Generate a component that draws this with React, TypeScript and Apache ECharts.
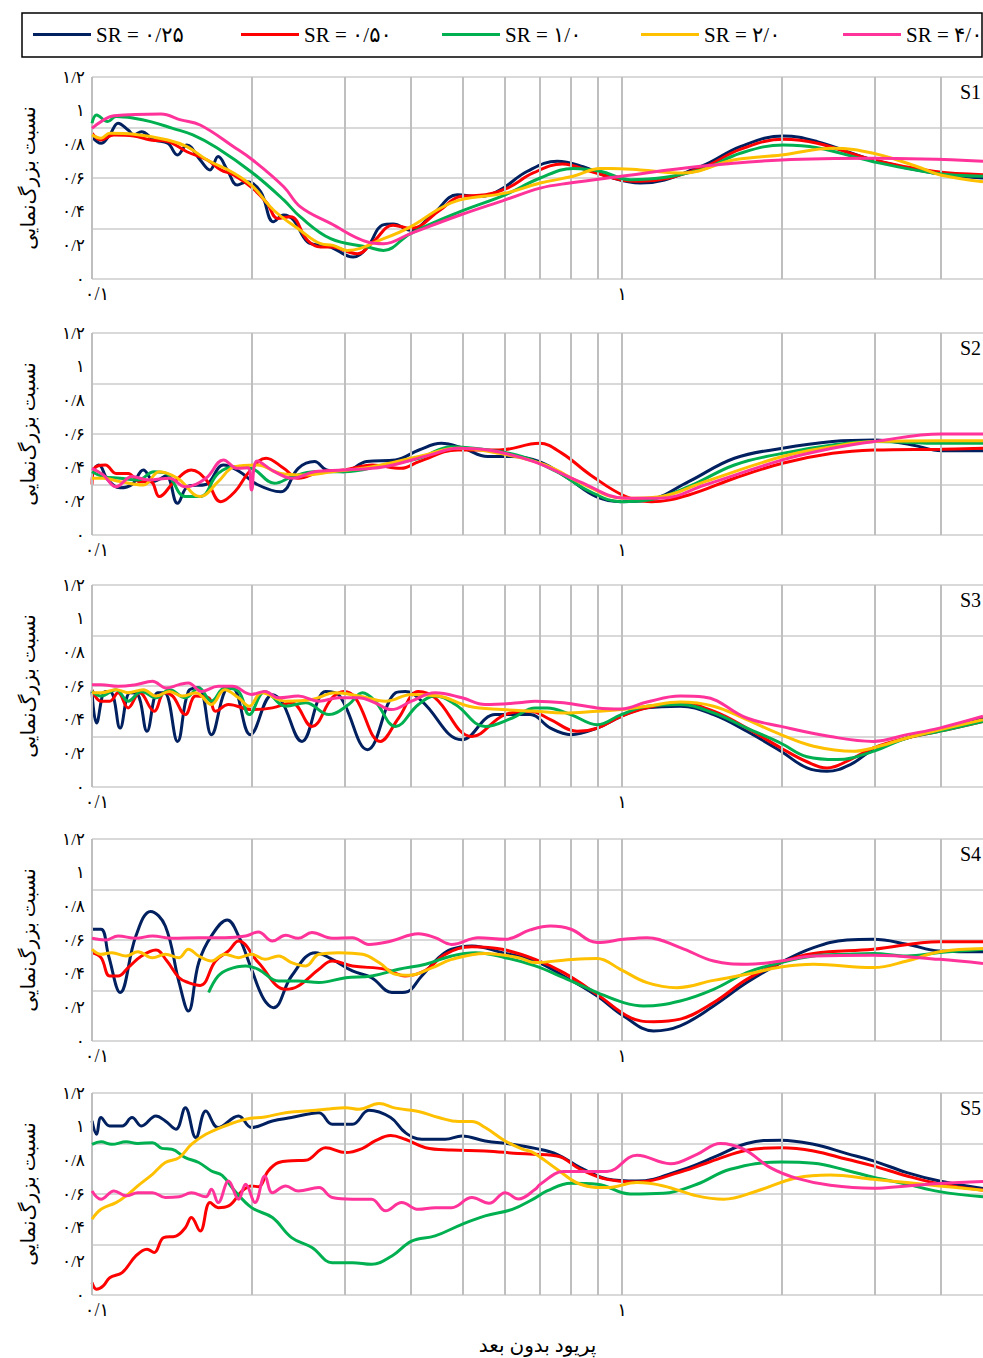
import React, { useEffect, useRef } from "react";
import * as echarts from "echarts";

// ---------- DATA (period T/Tn , amplification ratio) ----------
const s1_sr025 = [[0.1,0.845],[0.104,0.806],[0.108,0.856],[0.112,0.925],[0.117,0.885],[0.12,0.856],[0.124,0.875],[0.131,0.826],[0.139,0.806],[0.145,0.737],[0.151,0.796],[0.16,0.707],[0.167,0.648],[0.173,0.727],[0.18,0.648],[0.188,0.558],[0.196,0.578],[0.208,0.519],[0.22,0.34],[0.23,0.38],[0.24,0.35],[0.255,0.22],[0.27,0.2],[0.282,0.19],[0.311,0.13],[0.331,0.19],[0.353,0.32],[0.37,0.327],[0.399,0.29],[0.441,0.39],[0.489,0.5],[0.54,0.49],[0.589,0.53],[0.663,0.64],[0.755,0.7],[0.845,0.667],[0.938,0.61],[1.083,0.57],[1.406,0.667],[1.672,0.786],[2.016,0.85],[2.336,0.816],[2.98,0.707],[3.87,0.63],[4.8,0.6]];
const s1_sr050 = [[0.1,0.866],[0.104,0.826],[0.11,0.856],[0.12,0.85],[0.129,0.826],[0.139,0.816],[0.151,0.756],[0.165,0.707],[0.175,0.648],[0.185,0.618],[0.201,0.539],[0.214,0.45],[0.224,0.36],[0.237,0.37],[0.255,0.23],[0.27,0.19],[0.282,0.19],[0.317,0.15],[0.339,0.22],[0.37,0.32],[0.399,0.3],[0.454,0.41],[0.495,0.49],[0.553,0.5],[0.608,0.54],[0.68,0.63],[0.772,0.683],[0.871,0.64],[0.993,0.59],[1.083,0.58],[1.406,0.657],[1.672,0.77],[2.016,0.83],[2.336,0.806],[2.98,0.707],[3.87,0.64],[4.8,0.62]];
const s1_sr10 = [[0.1,0.925],[0.102,0.975],[0.107,0.935],[0.111,0.965],[0.12,0.955],[0.129,0.935],[0.142,0.895],[0.155,0.856],[0.172,0.78],[0.201,0.63],[0.23,0.47],[0.247,0.37],[0.282,0.24],[0.331,0.19],[0.355,0.17],[0.399,0.27],[0.495,0.4],[0.602,0.5],[0.701,0.6],[0.809,0.657],[0.91,0.64],[1.037,0.59],[1.406,0.648],[1.672,0.747],[2.016,0.796],[2.336,0.78],[2.98,0.697],[3.87,0.63],[4.8,0.61]];
const s1_sr20 = [[0.1,0.856],[0.104,0.836],[0.108,0.866],[0.12,0.86],[0.139,0.826],[0.151,0.786],[0.165,0.707],[0.185,0.63],[0.201,0.55],[0.22,0.41],[0.247,0.29],[0.27,0.21],[0.285,0.2],[0.303,0.17],[0.355,0.24],[0.399,0.31],[0.454,0.42],[0.495,0.47],[0.602,0.51],[0.701,0.57],[0.809,0.61],[0.91,0.657],[0.95,0.657],[1.083,0.648],[1.305,0.63],[1.622,0.707],[2.0,0.737],[2.504,0.777],[2.98,0.747],[3.61,0.667],[3.99,0.618],[4.8,0.578]];
const s1_sr40 = [[0.1,0.895],[0.104,0.935],[0.11,0.97],[0.135,0.98],[0.147,0.945],[0.16,0.915],[0.185,0.786],[0.201,0.707],[0.23,0.548],[0.247,0.43],[0.282,0.33],[0.331,0.22],[0.355,0.21],[0.399,0.27],[0.495,0.38],[0.602,0.47],[0.701,0.54],[0.797,0.57],[0.997,0.61],[1.406,0.67],[2.0,0.707],[2.98,0.717],[4.8,0.7]];

const s2_sr025 = [[0.1,0.376],[0.103,0.416],[0.107,0.33],[0.113,0.28],[0.119,0.3],[0.125,0.386],[0.131,0.32],[0.138,0.35],[0.145,0.188],[0.152,0.29],[0.164,0.3],[0.177,0.416],[0.19,0.376],[0.205,0.3],[0.227,0.257],[0.245,0.396],[0.263,0.436],[0.277,0.386],[0.299,0.376],[0.33,0.436],[0.374,0.446],[0.414,0.505],[0.456,0.545],[0.502,0.515],[0.558,0.466],[0.617,0.466],[0.699,0.436],[0.791,0.337],[0.894,0.228],[0.997,0.198],[1.122,0.208],[1.336,0.317],[1.63,0.456],[2.008,0.515],[2.496,0.555],[2.993,0.564],[3.53,0.535],[4.01,0.5],[4.8,0.5]];
const s2_sr050 = [[0.1,0.3],[0.101,0.396],[0.106,0.416],[0.111,0.366],[0.117,0.366],[0.123,0.317],[0.129,0.317],[0.134,0.228],[0.143,0.317],[0.154,0.386],[0.164,0.33],[0.175,0.198],[0.186,0.257],[0.198,0.376],[0.213,0.456],[0.23,0.396],[0.245,0.337],[0.27,0.376],[0.299,0.386],[0.338,0.416],[0.383,0.396],[0.414,0.436],[0.49,0.505],[0.587,0.505],[0.699,0.545],[0.771,0.485],[0.872,0.357],[1.017,0.228],[1.136,0.198],[1.336,0.238],[1.63,0.337],[2.008,0.426],[2.496,0.485],[2.993,0.505],[4.01,0.51],[4.8,0.515]];
const s2_sr10 = [[0.1,0.376],[0.105,0.347],[0.113,0.337],[0.122,0.327],[0.131,0.376],[0.138,0.366],[0.15,0.228],[0.16,0.228],[0.173,0.366],[0.186,0.406],[0.2,0.396],[0.221,0.307],[0.239,0.347],[0.263,0.376],[0.299,0.376],[0.356,0.416],[0.414,0.456],[0.478,0.525],[0.558,0.505],[0.649,0.466],[0.753,0.376],[0.872,0.257],[0.997,0.198],[1.122,0.208],[1.336,0.287],[1.63,0.416],[2.008,0.485],[2.496,0.535],[2.993,0.555],[4.01,0.545],[4.8,0.545]];
const s2_sr20 = [[0.1,0.337],[0.105,0.337],[0.113,0.317],[0.125,0.297],[0.134,0.376],[0.145,0.337],[0.16,0.228],[0.173,0.317],[0.186,0.406],[0.205,0.416],[0.227,0.366],[0.251,0.357],[0.284,0.376],[0.338,0.406],[0.414,0.466],[0.49,0.515],[0.587,0.485],[0.716,0.416],[0.852,0.297],[1.005,0.218],[1.18,0.228],[1.434,0.317],[2.008,0.466],[2.496,0.525],[2.993,0.555],[4.01,0.56],[4.8,0.56]];
const s2_sr40 = [[0.1,0.396],[0.105,0.357],[0.111,0.287],[0.119,0.347],[0.128,0.327],[0.14,0.337],[0.15,0.287],[0.164,0.337],[0.177,0.446],[0.188,0.396],[0.197,0.4],[0.2,0.267],[0.205,0.44],[0.221,0.376],[0.239,0.337],[0.263,0.376],[0.299,0.386],[0.356,0.406],[0.435,0.476],[0.49,0.515],[0.558,0.505],[0.682,0.436],[0.831,0.317],[1.017,0.218],[1.18,0.218],[1.434,0.297],[2.008,0.446],[2.496,0.515],[2.993,0.555],[4.01,0.6],[4.8,0.6]];

const s3_sr025 = [[0.1,0.568],[0.102,0.38],[0.106,0.568],[0.109,0.56],[0.113,0.35],[0.118,0.56],[0.122,0.55],[0.127,0.331],[0.133,0.56],[0.137,0.56],[0.145,0.271],[0.152,0.568],[0.159,0.59],[0.168,0.311],[0.178,0.568],[0.184,0.59],[0.199,0.311],[0.219,0.548],[0.228,0.509],[0.249,0.271],[0.276,0.568],[0.292,0.548],[0.331,0.222],[0.374,0.56],[0.39,0.568],[0.419,0.51],[0.499,0.28],[0.577,0.43],[0.671,0.43],[0.733,0.35],[0.801,0.311],[0.898,0.35],[0.997,0.42],[1.115,0.47],[1.288,0.48],[1.489,0.43],[1.72,0.331],[1.995,0.212],[2.234,0.113],[2.437,0.093],[2.697,0.133],[2.98,0.222],[3.449,0.291],[3.973,0.34],[4.8,0.41]];
const s3_sr050 = [[0.1,0.578],[0.104,0.51],[0.108,0.51],[0.112,0.56],[0.117,0.47],[0.123,0.56],[0.131,0.45],[0.137,0.56],[0.142,0.54],[0.15,0.43],[0.157,0.54],[0.166,0.53],[0.171,0.45],[0.181,0.49],[0.2,0.46],[0.219,0.47],[0.238,0.5],[0.26,0.36],[0.284,0.53],[0.299,0.568],[0.314,0.53],[0.35,0.271],[0.379,0.41],[0.413,0.568],[0.444,0.53],[0.521,0.3],[0.602,0.43],[0.671,0.45],[0.733,0.4],[0.823,0.331],[0.898,0.35],[0.997,0.42],[1.115,0.47],[1.288,0.5],[1.489,0.45],[1.72,0.35],[1.995,0.232],[2.234,0.15],[2.437,0.113],[2.697,0.163],[2.98,0.232],[3.449,0.291],[3.973,0.331],[4.8,0.39]];
const s3_sr10 = [[0.1,0.568],[0.104,0.54],[0.111,0.578],[0.117,0.51],[0.124,0.568],[0.132,0.53],[0.14,0.578],[0.15,0.53],[0.159,0.588],[0.168,0.51],[0.178,0.588],[0.189,0.568],[0.198,0.43],[0.212,0.568],[0.232,0.48],[0.253,0.5],[0.28,0.43],[0.305,0.49],[0.324,0.56],[0.342,0.51],[0.374,0.36],[0.413,0.49],[0.444,0.54],[0.485,0.49],[0.552,0.36],[0.621,0.41],[0.686,0.47],[0.722,0.47],[0.801,0.43],[0.898,0.37],[0.997,0.43],[1.115,0.48],[1.288,0.49],[1.489,0.44],[1.72,0.35],[1.995,0.26],[2.234,0.18],[2.545,0.163],[2.98,0.212],[3.449,0.291],[3.973,0.331],[4.8,0.39]];
const s3_sr20 = [[0.1,0.56],[0.104,0.56],[0.111,0.578],[0.117,0.56],[0.125,0.578],[0.132,0.54],[0.14,0.568],[0.148,0.54],[0.157,0.56],[0.168,0.49],[0.178,0.578],[0.189,0.53],[0.198,0.48],[0.209,0.56],[0.232,0.51],[0.26,0.52],[0.288,0.56],[0.319,0.54],[0.358,0.51],[0.401,0.55],[0.451,0.54],[0.514,0.48],[0.594,0.46],[0.686,0.45],[0.776,0.44],[0.898,0.45],[0.997,0.46],[1.115,0.48],[1.288,0.505],[1.489,0.48],[1.72,0.4],[1.995,0.311],[2.299,0.242],[2.735,0.212],[2.98,0.232],[3.449,0.291],[3.973,0.34],[4.8,0.4]];
const s3_sr40 = [[0.1,0.608],[0.104,0.608],[0.112,0.598],[0.121,0.608],[0.13,0.628],[0.138,0.588],[0.146,0.608],[0.152,0.618],[0.161,0.568],[0.173,0.598],[0.184,0.598],[0.2,0.55],[0.212,0.568],[0.225,0.53],[0.245,0.54],[0.268,0.51],[0.292,0.53],[0.319,0.53],[0.342,0.5],[0.367,0.46],[0.401,0.51],[0.444,0.56],[0.499,0.53],[0.552,0.49],[0.638,0.5],[0.686,0.51],[0.776,0.5],[0.898,0.47],[0.997,0.464],[1.115,0.505],[1.288,0.54],[1.426,0.535],[1.72,0.41],[1.995,0.36],[2.472,0.3],[2.98,0.271],[3.449,0.311],[3.973,0.35],[4.8,0.42]];

const s4_sr025 = [[0.1,0.664],[0.104,0.664],[0.1075,0.505],[0.113,0.288],[0.121,0.624],[0.129,0.77],[0.1375,0.683],[0.146,0.347],[0.152,0.178],[0.159,0.466],[0.168,0.624],[0.18,0.719],[0.189,0.624],[0.2,0.426],[0.211,0.248],[0.22,0.198],[0.238,0.386],[0.264,0.525],[0.284,0.485],[0.31,0.416],[0.337,0.376],[0.368,0.288],[0.39,0.29],[0.419,0.386],[0.451,0.495],[0.477,0.545],[0.521,0.565],[0.594,0.525],[0.686,0.475],[0.776,0.386],[0.898,0.267],[1.007,0.149],[1.147,0.06],[1.288,0.09],[1.489,0.208],[1.72,0.347],[1.995,0.466],[2.299,0.555],[2.658,0.6],[2.98,0.604],[3.449,0.575],[3.973,0.535],[4.8,0.53]];
const s4_sr050 = [[0.1,0.525],[0.104,0.495],[0.108,0.386],[0.112,0.386],[0.117,0.436],[0.124,0.505],[0.132,0.54],[0.1385,0.475],[0.146,0.376],[0.152,0.347],[0.16,0.33],[0.171,0.475],[0.181,0.535],[0.189,0.594],[0.206,0.466],[0.232,0.307],[0.245,0.327],[0.268,0.426],[0.284,0.475],[0.31,0.446],[0.358,0.426],[0.39,0.386],[0.426,0.42],[0.464,0.515],[0.521,0.56],[0.594,0.545],[0.686,0.485],[0.776,0.406],[0.898,0.277],[1.037,0.139],[1.147,0.115],[1.288,0.13],[1.489,0.228],[1.72,0.366],[1.995,0.466],[2.299,0.52],[2.98,0.545],[3.973,0.59],[4.8,0.59]];
const s4_sr10 = [[0.166,0.288],[0.173,0.386],[0.181,0.426],[0.195,0.446],[0.206,0.426],[0.225,0.356],[0.245,0.356],[0.268,0.347],[0.301,0.376],[0.337,0.386],[0.379,0.426],[0.426,0.456],[0.477,0.505],[0.529,0.525],[0.602,0.495],[0.686,0.446],[0.776,0.376],[0.898,0.288],[1.007,0.228],[1.098,0.208],[1.288,0.238],[1.489,0.307],[1.72,0.406],[1.995,0.466],[2.299,0.505],[2.658,0.515],[2.98,0.52],[3.449,0.505],[3.973,0.525],[4.8,0.545]];
const s4_sr20 = [[0.1,0.545],[0.104,0.515],[0.109,0.525],[0.116,0.505],[0.122,0.53],[0.13,0.495],[0.1375,0.515],[0.146,0.495],[0.152,0.545],[0.159,0.505],[0.168,0.475],[0.178,0.515],[0.189,0.495],[0.2,0.515],[0.212,0.485],[0.225,0.505],[0.238,0.466],[0.253,0.446],[0.268,0.515],[0.292,0.525],[0.324,0.515],[0.348,0.466],[0.374,0.396],[0.396,0.39],[0.439,0.436],[0.477,0.485],[0.552,0.52],[0.638,0.495],[0.686,0.466],[0.776,0.48],[0.898,0.49],[0.993,0.426],[1.115,0.347],[1.27,0.317],[1.489,0.36],[1.72,0.396],[1.995,0.44],[2.299,0.456],[2.98,0.436],[3.449,0.475],[3.973,0.53],[4.8,0.55]];
const s4_sr40 = [[0.1,0.61],[0.106,0.6],[0.112,0.624],[0.121,0.61],[0.13,0.624],[0.1415,0.61],[0.159,0.614],[0.178,0.614],[0.195,0.624],[0.206,0.648],[0.219,0.594],[0.232,0.628],[0.245,0.61],[0.26,0.644],[0.284,0.61],[0.31,0.614],[0.333,0.574],[0.367,0.594],[0.413,0.637],[0.444,0.614],[0.477,0.574],[0.536,0.614],[0.602,0.604],[0.671,0.66],[0.733,0.683],[0.801,0.664],[0.898,0.585],[1.007,0.604],[1.115,0.614],[1.288,0.555],[1.489,0.475],[1.72,0.456],[1.995,0.475],[2.299,0.505],[2.98,0.51],[3.973,0.485],[4.8,0.46]];

const s5_sr025 = [[0.1,1.034],[0.102,0.955],[0.104,1.054],[0.108,1.004],[0.114,1.004],[0.119,1.054],[0.124,1.004],[0.132,1.064],[0.1375,1.034],[0.144,0.985],[0.15,1.113],[0.157,0.935],[0.164,1.093],[0.173,0.995],[0.189,1.064],[0.2,0.995],[0.219,1.034],[0.238,1.054],[0.268,1.083],[0.284,1.014],[0.31,1.014],[0.333,1.097],[0.366,1.054],[0.39,0.965],[0.419,0.925],[0.464,0.925],[0.499,0.945],[0.552,0.915],[0.621,0.895],[0.686,0.871],[0.754,0.836],[0.834,0.757],[0.937,0.69],[1.067,0.677],[1.288,0.74],[1.511,0.826],[1.72,0.9],[1.995,0.92],[2.299,0.895],[2.658,0.84],[2.98,0.797],[3.449,0.727],[3.973,0.677],[4.8,0.632]];
const s5_sr050 = [[0.1,0.074],[0.102,0.034],[0.105,0.054],[0.108,0.103],[0.114,0.133],[0.121,0.232],[0.127,0.272],[0.131,0.252],[0.1365,0.341],[0.144,0.35],[0.15,0.4],[0.154,0.46],[0.16,0.38],[0.167,0.549],[0.173,0.519],[0.181,0.529],[0.192,0.618],[0.2,0.648],[0.206,0.643],[0.215,0.737],[0.225,0.787],[0.238,0.797],[0.253,0.8],[0.276,0.875],[0.301,0.846],[0.324,0.871],[0.342,0.915],[0.366,0.947],[0.39,0.925],[0.426,0.875],[0.477,0.861],[0.552,0.856],[0.638,0.84],[0.754,0.826],[0.834,0.747],[0.937,0.687],[1.067,0.672],[1.288,0.73],[1.511,0.806],[1.72,0.86],[1.995,0.875],[2.299,0.856],[2.658,0.806],[2.98,0.767],[3.449,0.707],[3.973,0.66],[4.8,0.622]];
const s5_sr10 = [[0.1,0.895],[0.104,0.91],[0.109,0.895],[0.116,0.91],[0.122,0.9],[0.13,0.905],[0.1355,0.871],[0.1415,0.866],[0.15,0.816],[0.159,0.787],[0.168,0.737],[0.176,0.71],[0.186,0.618],[0.2,0.519],[0.219,0.46],[0.238,0.341],[0.26,0.282],[0.284,0.192],[0.31,0.192],[0.337,0.182],[0.368,0.232],[0.401,0.32],[0.444,0.351],[0.499,0.42],[0.552,0.47],[0.621,0.509],[0.68,0.57],[0.722,0.618],[0.801,0.664],[0.898,0.658],[1.037,0.6],[1.198,0.604],[1.385,0.658],[1.601,0.747],[1.995,0.79],[2.299,0.783],[2.658,0.74],[2.98,0.7],[3.449,0.658],[3.973,0.614],[4.8,0.583]];
const s5_sr20 = [[0.1,0.45],[0.104,0.509],[0.111,0.549],[0.116,0.589],[0.122,0.648],[0.13,0.717],[0.1375,0.787],[0.146,0.816],[0.154,0.895],[0.164,0.955],[0.178,1.004],[0.195,1.044],[0.212,1.058],[0.232,1.083],[0.253,1.093],[0.276,1.103],[0.301,1.113],[0.319,1.103],[0.348,1.137],[0.374,1.11],[0.413,1.09],[0.451,1.054],[0.492,1.03],[0.521,1.03],[0.552,0.995],[0.602,0.915],[0.649,0.866],[0.68,0.846],[0.754,0.747],[0.834,0.658],[0.937,0.638],[1.067,0.668],[1.198,0.648],[1.385,0.589],[1.555,0.569],[1.798,0.618],[2.139,0.697],[2.472,0.713],[2.98,0.687],[3.449,0.668],[3.973,0.648],[4.8,0.622]];
const s5_sr40 = [[0.1,0.618],[0.104,0.569],[0.11,0.618],[0.116,0.589],[0.122,0.608],[0.13,0.608],[0.1375,0.579],[0.146,0.583],[0.154,0.608],[0.164,0.583],[0.168,0.628],[0.173,0.549],[0.181,0.677],[0.189,0.569],[0.195,0.658],[0.203,0.549],[0.212,0.707],[0.219,0.608],[0.232,0.648],[0.245,0.618],[0.268,0.638],[0.284,0.579],[0.31,0.569],[0.337,0.569],[0.358,0.5],[0.384,0.549],[0.413,0.509],[0.444,0.519],[0.477,0.519],[0.521,0.579],[0.561,0.545],[0.602,0.608],[0.638,0.57],[0.686,0.628],[0.701,0.658],[0.776,0.733],[0.871,0.733],[0.937,0.733],[1.067,0.83],[1.234,0.78],[1.385,0.836],[1.533,0.9],[1.696,0.866],[1.905,0.757],[2.139,0.693],[2.472,0.652],[2.98,0.634],[3.449,0.648],[3.973,0.662],[4.8,0.674]];

const seriesNames = ["SR = ۰/۲۵", "SR = ۰/۵۰", "SR = ۱/۰", "SR = ۲/۰", "SR = ۴/۰"];
const seriesColors = ["#002060", "#ff0000", "#00b050", "#ffc000", "#ff3399"];
const panelNames = ["S1", "S2", "S3", "S4", "S5"];
const panelData = [
  [s1_sr025, s1_sr050, s1_sr10, s1_sr20, s1_sr40],
  [s2_sr025, s2_sr050, s2_sr10, s2_sr20, s2_sr40],
  [s3_sr025, s3_sr050, s3_sr10, s3_sr20, s3_sr40],
  [s4_sr025, s4_sr050, s4_sr10, s4_sr20, s4_sr40],
  [s5_sr025, s5_sr050, s5_sr10, s5_sr20, s5_sr40],
];
const xGridValues = [0.1, 0.2, 0.3, 0.4, 0.5, 0.6, 0.7, 0.8, 0.9, 1, 2, 3, 4];
const xTickValues = [0.1, 1];
const yAxisTitle = "نسبت بزرگ‌نمایی";
const xAxisTitle = "پریود بدون بعد";

// ---------- LAYOUT ----------
const W = 983;
const H = 1358;
const PANEL_TOPS = [77, 333, 585, 839, 1093];
const PANEL_H = 202;
const PLOT_LEFT = 92;
const LEGEND_LEFTS = [33, 241, 442, 641, 843];
const FONT = "'Liberation Serif', 'Times New Roman', 'DejaVu Sans', serif";

const PERSIAN = "۰۱۲۳۴۵۶۷۸۹";
function toPersian(v: number): string {
  const s = String(Math.round(v * 100) / 100);
  return s.replace(/\d/g, (d) => PERSIAN[+d]).replace(".", "/");
}

export default function App() {
  const ref = useRef<HTMLDivElement>(null);

  useEffect(() => {
    if (!ref.current) return;
    const chart = echarts.init(ref.current, undefined, { renderer: "svg" });

    const grid = PANEL_TOPS.map((t) => ({
      left: PLOT_LEFT,
      top: t,
      width: W - PLOT_LEFT,
      height: PANEL_H,
      containLabel: false,
    }));

    const xAxis = PANEL_TOPS.map((_, i) => ({
      type: "log",
      logBase: 10,
      gridIndex: i,
      min: 0.1,
      max: 4.8,
      axisLine: { show: false },
      axisTick: { show: false },
      splitLine: { show: false },
      axisLabel: {
        color: "#000",
        fontSize: 18,
        fontFamily: FONT,
        margin: 6,
        showMaxLabel: false,
        formatter: (v: number) => {
          if (Math.abs(v - xTickValues[0]) < 1e-6) return "{first|" + toPersian(xTickValues[0]) + "}";
          const hit = xTickValues.find((t) => Math.abs(v - t) < 1e-6);
          return hit !== undefined ? toPersian(hit) : "";
        },
        rich: {
          first: { fontSize: 18, fontFamily: FONT, color: "#000", padding: [0, 0, 0, 10] },
        },
      },
    }));

    const yAxis: any[] = [];
    PANEL_TOPS.forEach((_, i) => {
      yAxis.push({
        type: "value",
        gridIndex: i,
        min: 0,
        max: 1.2,
        interval: 0.2,
        position: "left",
        axisLine: { show: false },
        axisTick: { show: false },
        splitLine: { show: false },
        axisLabel: {
          color: "#000",
          fontSize: 17,
          fontFamily: FONT,
          margin: 7,
          formatter: (v: number) => toPersian(v),
        },
        name: yAxisTitle,
        nameLocation: "middle",
        nameRotate: 90,
        nameGap: 54,
        nameTextStyle: { color: "#000", fontSize: 20, fontFamily: FONT },
      });
      yAxis.push({
        type: "value",
        gridIndex: i,
        min: 0,
        max: 1.2,
        interval: 0.3,
        position: "left",
        axisLine: { show: false },
        axisTick: { show: false },
        axisLabel: { show: false },
        splitLine: { show: true, lineStyle: { color: "#d9d9d9", width: 2 } },
      });
    });

    const series: any[] = [];
    panelData.forEach((panel, p) => {
      series.push({
        type: "line",
        xAxisIndex: p,
        yAxisIndex: p * 2,
        data: [],
        silent: true,
        z: 1,
        markLine: {
          silent: true,
          symbol: ["none", "none"],
          label: { show: false },
          lineStyle: { color: "#bfbfbf", width: 2, type: "solid" },
          emphasis: { disabled: true },
          data: xGridValues.map((v) => ({ xAxis: v })),
        },
      });
      panel.forEach((d, j) => {
        series.push({
          type: "line",
          name: seriesNames[j],
          xAxisIndex: p,
          yAxisIndex: p * 2,
          data: d,
          smooth: 0.4,
          symbol: "none",
          showSymbol: false,
          z: 3 + j,
          color: seriesColors[j],
          lineStyle: { width: 3, color: seriesColors[j] },
          emphasis: { disabled: true },
        });
      });
    });

    const legend = seriesNames.map((n, i) => ({
      data: [n],
      left: LEGEND_LEFTS[i],
      top: 24,
      padding: 0,
      icon: "rect",
      itemWidth: 58,
      itemHeight: 3,
      itemGap: 5,
      selectedMode: false,
      textStyle: { color: "#000", fontSize: 21, fontFamily: FONT },
    }));

    const graphic: any[] = [
      {
        type: "rect",
        shape: { x: 22, y: 13, width: 960, height: 44 },
        style: { fill: "none", stroke: "#000", lineWidth: 1.5 },
        silent: true,
      },
      ...PANEL_TOPS.map((t, i) => ({
        type: "text",
        x: 981,
        y: t + 15,
        silent: true,
        style: {
          text: panelNames[i],
          fill: "#000",
          fontSize: 20,
          fontFamily: FONT,
          align: "right",
          verticalAlign: "middle",
        },
      })),
      {
        type: "text",
        x: (PLOT_LEFT + W) / 2,
        y: 1345,
        silent: true,
        style: {
          text: xAxisTitle,
          fill: "#000",
          fontSize: 20,
          fontFamily: FONT,
          align: "center",
          verticalAlign: "middle",
        },
      },
    ];

    chart.setOption({
      animation: false,
      backgroundColor: "#ffffff",
      grid,
      xAxis,
      yAxis,
      series,
      legend,
      graphic,
    });

    return () => chart.dispose();
  }, []);

  return (
    <div
      ref={ref}
      style={{ position: "absolute", left: 0, top: 0, width: W, height: H, background: "#fff" }}
    />
  );
}
